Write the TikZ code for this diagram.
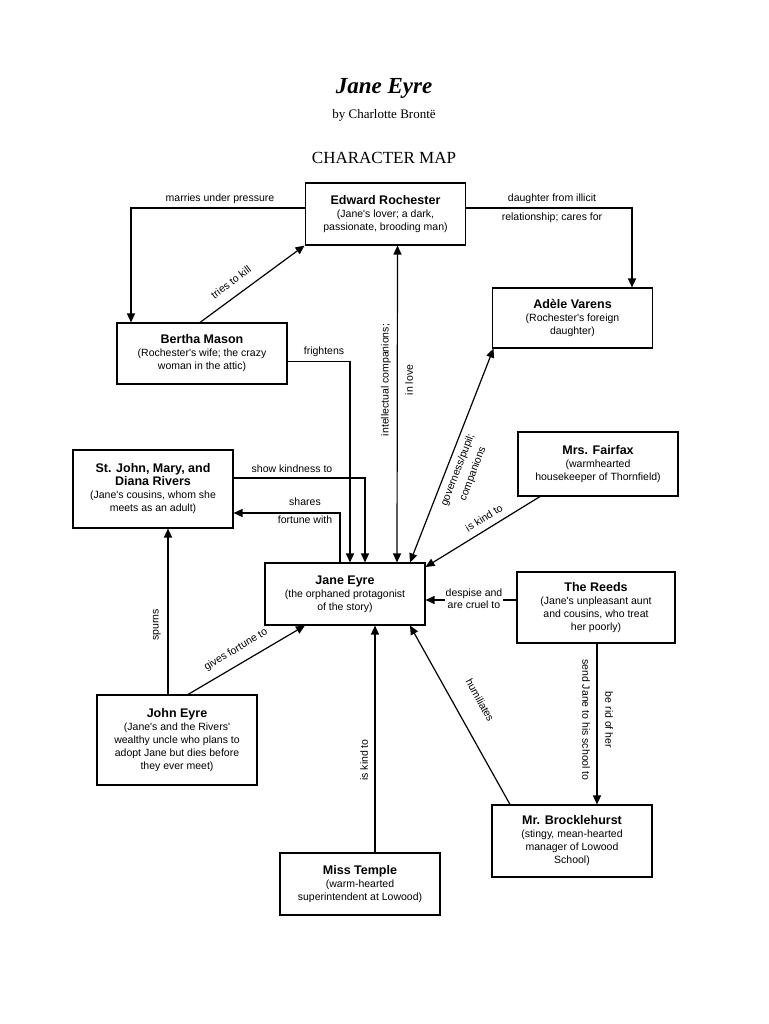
\documentclass[tikz,border=0pt]{standalone}
\usepackage{fontspec}
\setmainfont{Liberation Serif}
\newfontfamily\boxfont{Liberation Sans}
\usetikzlibrary{arrows.meta}
\newcommand\bxt[1]{{\bfseries\fontsize{12.5}{14}\selectfont #1}}
\begin{document}
\begin{tikzpicture}[x=1pt,y=-1pt,
  box/.style={draw,line width=1.1pt,minimum width=160pt,align=center,inner sep=2pt,font=\boxfont\fontsize{10.5}{13}\selectfont},
  arr/.style={line width=1.2pt,-{Triangle[length=9pt,width=8pt]}},
  darr/.style={line width=1.2pt,{Triangle[length=9pt,width=8pt]}-{Triangle[length=9pt,width=8pt]}},
  lab/.style={font=\boxfont\fontsize{10.5}{12}\selectfont,inner sep=1pt,align=center}]
\useasboundingbox (0,0) rectangle (768,1024);
\node[font=\fontsize{23}{25}\selectfont\bfseries\itshape] (t1) at (384,88) {Jane Eyre};
\node[font=\fontsize{13}{15}\selectfont] (t2) at (384,115) {by Charlotte Brontë};
\node[font=\fontsize{17}{19}\selectfont] (t3) at (384,158) {CHARACTER MAP};

\node[box,minimum height=62pt] (roch) at (385.5,214) {\bxt{Edward Rochester}\\(Jane's lover; a dark,\\passionate, brooding man)};
\node[box,minimum height=60pt] (adele) at (572.5,318) {\bxt{Adèle Varens}\\(Rochester's foreign\\daughter)};
\node[box,minimum width=170pt,minimum height=61pt] (bertha) at (202,353.5) {\bxt{Bertha Mason}\\(Rochester's wife; the crazy\\woman in the attic)};
\node[box,minimum height=78pt] (stjohn) at (153,489) {\bxt{St. John, Mary, and}\\\bxt{Diana Rivers}\\(Jane's cousins, whom she\\meets as an adult)};
\node[box,minimum height=64pt] (fairfax) at (598,464) {\bxt{Mrs. Fairfax}\\(warmhearted\\housekeeper of Thornfield)};
\node[box,minimum height=62pt] (jane) at (345,594) {\bxt{Jane Eyre}\\(the orphaned protagonist\\of the story)};
\node[box,minimum width=158pt,minimum height=71pt] (reeds) at (596,607.5) {\bxt{The Reeds}\\(Jane's unpleasant aunt\\and cousins, who treat\\her poorly)};
\node[box,minimum height=90pt] (john) at (177,740) {\bxt{John Eyre}\\(Jane's and the Rivers'\\wealthy uncle who plans to\\adopt Jane but dies before\\they ever meet)};
\node[box,minimum height=72pt] (brock) at (572,841) {\bxt{Mr. Brocklehurst}\\(stingy, mean-hearted\\manager of Lowood\\School)};
\node[box,minimum height=62pt] (temple) at (360,884) {\bxt{Miss Temple}\\(warm-hearted\\superintendent at Lowood)};

\draw[arr] ([yshift=6pt]roch.west) -| ([xshift=-71pt]bertha.north);
\node[lab] (l1) at (220,199) {marries under pressure};
\draw[arr] ([yshift=6pt]roch.east) -| ([xshift=59.5pt]adele.north);
\node[lab] (l2) at (552,199) {daughter from illicit};
\node[lab] (l3) at (552,218) {relationship; cares for};
\draw[arr] ([xshift=-2pt]bertha.north) -- ([xshift=-81pt]roch.south);
\node[lab,rotate=37] (l4) at (231,282) {tries to kill};
\draw[arr] ([yshift=-8pt]bertha.east) -| ([xshift=5pt]jane.north);
\node[lab] (l5) at (324,352) {frightens};
\draw[darr] ([xshift=12pt]roch.south) -- ([xshift=52pt]jane.north);
\node[lab,rotate=90] (l6) at (386,380) {intellectual companions;};
\node[lab,rotate=90] (l6b) at (409,380) {in love};
\draw[darr] ([xshift=-79pt]adele.south) -- ([xshift=65pt]jane.north);
\node[lab,rotate=69] (l7) at (458,470) {governess/pupil;};
\node[lab,rotate=69] (l7b) at (473,474) {companions};
\draw[arr] ([yshift=11pt]stjohn.east) -| ([xshift=20pt]jane.north);
\node[lab] (l8) at (292,469) {show kindness to};
\draw[arr] ([xshift=-5pt]jane.north) |- ([yshift=-24pt]stjohn.east);
\node[lab] (l9) at (305,502) {shares};
\node[lab] (l9b) at (305,520) {fortune with};
\draw[arr] ([xshift=-58pt]fairfax.south) -- ([yshift=27pt]jane.east);
\node[lab,rotate=32] (l10) at (484,518) {is kind to};
\draw[arr] ([yshift=7.5pt]reeds.west) -- ([yshift=-6pt]jane.east);
\node[lab,fill=white] (l11) at (474,599) {despise and\\are cruel to};
\draw[arr] ([xshift=1pt]reeds.south) -- ([xshift=25pt]brock.north);
\node[lab,rotate=-90] (l12) at (586,720) {send Jane to his school to};
\node[lab,rotate=-90] (l12b) at (609,720) {be rid of her};
\draw[arr] ([xshift=-62pt]brock.north) -- ([xshift=65pt]jane.south);
\node[lab,rotate=-61] (l13) at (480,700) {humiliates};
\draw[arr] ([xshift=15pt]temple.north) -- ([xshift=30pt]jane.south);
\node[lab,rotate=90] (l14) at (364,760) {is kind to};
\draw[arr] ([xshift=11pt]john.north) -- ([xshift=-40pt]jane.south);
\node[lab,rotate=31] (l15) at (236,650) {gives fortune to};
\draw[arr] ([xshift=-9pt]john.north) -- ([xshift=15pt]stjohn.south);
\node[lab,rotate=90] (l16) at (157,625) {spurns};
\end{tikzpicture}
\end{document}
